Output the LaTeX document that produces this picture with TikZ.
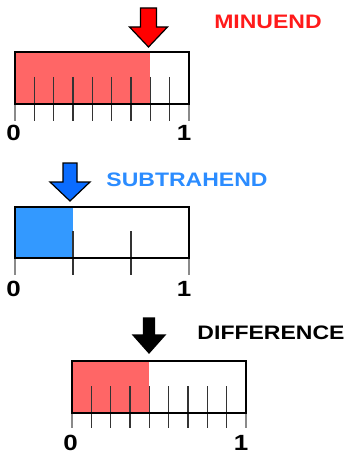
\documentclass[tikz,border=0pt]{standalone}
\usepackage{fontspec}
\setmainfont{Liberation Sans}
\definecolor{arrowred}{HTML}{FF0000}
\definecolor{textred}{HTML}{FF1A1A}
\definecolor{barred}{HTML}{FF6666}
\definecolor{arrowblue}{HTML}{0A6CFF}
\definecolor{barblue}{HTML}{3399FF}
\definecolor{textblue}{HTML}{2B8CFF}
\definecolor{tickdark}{HTML}{333333}
\definecolor{tickedge}{HTML}{8A8A8A}
\tikzset{
  barframe/.style={draw=black, line width=2.5pt},
  innertick/.style={draw=tickdark, line width=1.6pt},
  edgetick/.style={draw=tickedge, line width=2.3pt},
  bigarrow/.style={draw=black, line width=1.2pt, line join=miter},
  caption/.style={font=\bfseries\fontsize{19.5}{20}\selectfont, inner sep=0pt},
  digit/.style={font=\bfseries\fontsize{22}{22}\selectfont, inner sep=0pt}
}
\newcommand{\wide}[1]{\scalebox{1.18}[1]{#1}}
\begin{document}
\begin{tikzpicture}[x=1pt,y=-1pt]
\useasboundingbox (0,0) rectangle (350,457);

% ---------- Bar 1 (minuend) ----------
\fill[barred] (15,52) rectangle (150.3,104);
\foreach \i in {1,...,8}{
  \draw[innertick] ({15+174*\i/9},77) -- ({15+174*\i/9},121);
}
\draw[edgetick] (15,104) -- (15,121);
\draw[edgetick] (189,104) -- (189,121);
\draw[barframe] (15,52) rectangle (189,104);
\node[digit] (z1) at (13.5,133) {\wide{0}};
\node[digit] (o1) at (184,133) {\wide{1}};
\filldraw[bigarrow, fill=arrowred] (140.5,8) -- (156.5,8) -- (156.5,27) -- (167.5,27)
  -- (148.5,47) -- (129.5,27) -- (140.5,27) -- cycle;
\node[caption, text=textred] (minuend) at (268,22) {\wide{MINUEND}};

% ---------- Bar 2 (subtrahend) ----------
\fill[barblue] (15,207) rectangle (73,258);
\foreach \i in {1,2}{
  \draw[innertick] ({15+174*\i/3},231) -- ({15+174*\i/3},275);
}
\draw[edgetick] (15,258) -- (15,275);
\draw[edgetick] (189,258) -- (189,275);
\draw[barframe] (15,207) rectangle (189,258);
\node[digit] (z2) at (13.5,289) {\wide{0}};
\node[digit] (o2) at (184,289) {\wide{1}};
\filldraw[bigarrow, fill=arrowblue] (63,163) -- (77,163) -- (77,182) -- (90,182)
  -- (70,201) -- (50,182) -- (63,182) -- cycle;
\node[caption, text=textblue] (subtrahend) at (187,180) {\wide{SUBTRAHEND}};

% ---------- Bar 3 (difference) ----------
\fill[barred] (72,361) rectangle (149.3,413);
\foreach \i in {1,...,8}{
  \draw[innertick] ({72+174*\i/9},386) -- ({72+174*\i/9},428);
}
\draw[edgetick] (72,413) -- (72,428);
\draw[edgetick] (246,413) -- (246,428);
\draw[barframe] (72,361) rectangle (246,413);
\node[digit] (z3) at (70.5,443) {\wide{0}};
\node[digit] (o3) at (241,443) {\wide{1}};
\filldraw[bigarrow, fill=black] (143.5,318) -- (154.5,318) -- (154.5,335) -- (165,335)
  -- (149,353) -- (133,335) -- (143.5,335) -- cycle;
\node[caption, text=black] (difference) at (271,333) {\wide{DIFFERENCE}};
\end{tikzpicture}
\end{document}
